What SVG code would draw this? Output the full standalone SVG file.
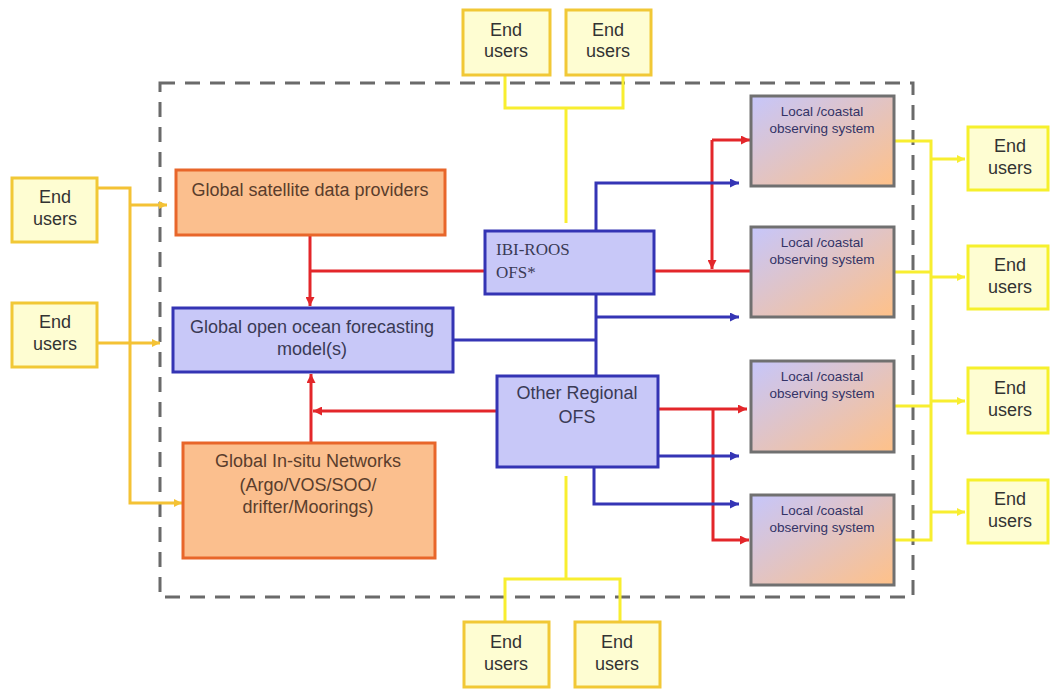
<svg xmlns="http://www.w3.org/2000/svg" width="1050" height="691" viewBox="0 0 1050 691">
<defs>
<linearGradient id="lg" x1="0" y1="0" x2="1" y2="1">
<stop offset="0" stop-color="#c6c6fb"/>
<stop offset="1" stop-color="#ffc188"/>
</linearGradient>
<marker id="ar" viewBox="0 0 10 10" refX="10" refY="5" markerWidth="11" markerHeight="9" markerUnits="userSpaceOnUse" orient="auto"><path d="M0,0 L10,5 L0,10 z" fill="#e3262a"/></marker>
<marker id="ab" viewBox="0 0 10 10" refX="10" refY="5" markerWidth="11" markerHeight="9" markerUnits="userSpaceOnUse" orient="auto"><path d="M0,0 L10,5 L0,10 z" fill="#3535b5"/></marker>
<marker id="ao" viewBox="0 0 10 10" refX="10" refY="5" markerWidth="10" markerHeight="8" markerUnits="userSpaceOnUse" orient="auto"><path d="M0,0 L10,5 L0,10 z" fill="#f4c235"/></marker>
<marker id="ay" viewBox="0 0 10 10" refX="10" refY="5" markerWidth="10" markerHeight="8" markerUnits="userSpaceOnUse" orient="auto"><path d="M0,0 L10,5 L0,10 z" fill="#f8ee30"/></marker>
</defs>
<style>
text{font-family:"Liberation Sans",Arial,sans-serif;text-anchor:middle}
.eu rect{fill:#fefdd2;stroke:#f1c836;stroke-width:3}
.eur rect{fill:#fefdd2;stroke:#f6f02c;stroke-width:3}
.eu text,.eur text{font-size:18px;fill:#333}
.or rect{fill:#fbbf8e;stroke:#e8662a;stroke-width:3}
.or text{font-size:18px;fill:#5a3d2c}
.bl rect{fill:#c8c8f8;stroke:#3434b4;stroke-width:3}
.bl text{font-size:18px;fill:#3a3a55}
.lc rect{fill:url(#lg);stroke:#707070;stroke-width:3}
.lc text{font-size:13.5px;fill:#333366}
.r{stroke:#e3262a;stroke-width:3;fill:none}
.b{stroke:#3535b5;stroke-width:3;fill:none}
.o{stroke:#f4c235;stroke-width:3;fill:none}
.y{stroke:#f8ee30;stroke-width:3;fill:none}
</style>
<rect x="0" y="0" width="1050" height="691" fill="#ffffff"/>
<rect x="160" y="83" width="753" height="514" fill="none" stroke="#6a6a6a" stroke-width="3" stroke-dasharray="15,10"/>

<g id="connectors">
<path class="r" d="M310,235 V306" marker-end="url(#ar)"/>
<path class="r" d="M311,271 H485"/>
<path class="r" d="M654,271 H751"/>
<path class="r" d="M712,140 V269" marker-end="url(#ar)"/>
<path class="r" d="M712,140 H750" marker-end="url(#ar)"/>
<path class="r" d="M497,411 H313" marker-end="url(#ar)"/>
<path class="r" d="M311,443 V374" marker-end="url(#ar)"/>
<path class="r" d="M658,409 H747" marker-end="url(#ar)"/>
<path class="r" d="M713,409 V540 H749" marker-end="url(#ar)"/>

<path class="b" d="M596,231 V183 H739" marker-end="url(#ab)"/>
<path class="b" d="M596,294 V376"/>
<path class="b" d="M596,317 H739" marker-end="url(#ab)"/>
<path class="b" d="M596,340 H453"/>
<path class="b" d="M658,456 H739" marker-end="url(#ab)"/>
<path class="b" d="M594,467 V504 H739" marker-end="url(#ab)"/>

<path class="o" d="M97,188 H130 V503 H182" marker-end="url(#ao)"/>
<path class="o" d="M130,205 H167" marker-end="url(#ao)"/>
<path class="o" d="M97,343 H160" marker-end="url(#ao)"/>

<path class="y" d="M505,75 V108 H623 V75"/>
<path class="y" d="M566,108 V223"/>
<path class="y" d="M566,476 V579"/>
<path class="y" d="M505,622 V579 H620 V622"/>
<path class="y" d="M894,141 H931 V540 H894"/>
<path class="y" d="M894,272 H931"/>
<path class="y" d="M894,406 H931"/>
<path class="y" d="M931,159 H965" marker-end="url(#ay)"/>
<path class="y" d="M931,277 H965" marker-end="url(#ay)"/>
<path class="y" d="M931,401 H965" marker-end="url(#ay)"/>
<path class="y" d="M931,512 H965" marker-end="url(#ay)"/>
</g>

<g id="eu-left1" class="eu"><rect x="12" y="178" width="85" height="64"/><text x="55" y="203">End</text><text x="55" y="225">users</text></g>
<g id="eu-left2" class="eu"><rect x="12" y="303" width="85" height="64"/><text x="55" y="328">End</text><text x="55" y="350">users</text></g>
<g id="eu-top1" class="eu"><rect x="463" y="10" width="87" height="65"/><text x="506" y="36">End</text><text x="506" y="57">users</text></g>
<g id="eu-top2" class="eu"><rect x="566" y="10" width="85" height="65"/><text x="608" y="36">End</text><text x="608" y="57">users</text></g>
<g id="eu-bot1" class="eu"><rect x="464" y="622" width="85" height="65"/><text x="506" y="648">End</text><text x="506" y="670">users</text></g>
<g id="eu-bot2" class="eu"><rect x="575" y="622" width="85" height="65"/><text x="617" y="648">End</text><text x="617" y="670">users</text></g>
<g id="eu-right1" class="eur"><rect x="968" y="127" width="80" height="63"/><text x="1010" y="152">End</text><text x="1010" y="174">users</text></g>
<g id="eu-right2" class="eur"><rect x="968" y="246" width="80" height="63"/><text x="1010" y="271">End</text><text x="1010" y="293">users</text></g>
<g id="eu-right3" class="eur"><rect x="968" y="368" width="80" height="65"/><text x="1010" y="394">End</text><text x="1010" y="416">users</text></g>
<g id="eu-right4" class="eur"><rect x="968" y="480" width="80" height="63"/><text x="1010" y="505">End</text><text x="1010" y="527">users</text></g>

<g id="satellite" class="or"><rect x="176" y="170" width="269" height="65"/><text x="310" y="196">Global satellite data providers</text></g>
<g id="global-model" class="bl"><rect x="173" y="308" width="280" height="64"/><text x="312" y="333">Global open ocean forecasting</text><text x="312" y="355">model(s)</text></g>
<g id="insitu" class="or"><rect x="183" y="443" width="252" height="115"/><text x="308" y="467">Global In-situ Networks</text><text x="308" y="491">(Argo/VOS/SOO/</text><text x="308" y="513">drifter/Moorings)</text></g>
<g id="ibi-roos" class="bl"><rect x="485" y="231" width="169" height="63"/><text x="496" y="255" style="text-anchor:start;font-family:'Liberation Serif','Times New Roman',serif;font-size:17px">IBI-ROOS</text><text x="496" y="278" style="text-anchor:start;font-family:'Liberation Serif','Times New Roman',serif;font-size:17px">OFS*</text></g>
<g id="other-regional" class="bl"><rect x="497" y="376" width="161" height="91"/><text x="577" y="399">Other Regional</text><text x="577" y="423">OFS</text></g>

<g id="local1" class="lc"><rect x="751" y="96" width="143" height="90"/><text x="822" y="116">Local /coastal</text><text x="822" y="133">observing system</text></g>
<g id="local2" class="lc"><rect x="751" y="227" width="143" height="90"/><text x="822" y="247">Local /coastal</text><text x="822" y="264">observing system</text></g>
<g id="local3" class="lc"><rect x="751" y="361" width="143" height="91"/><text x="822" y="381">Local /coastal</text><text x="822" y="398">observing system</text></g>
<g id="local4" class="lc"><rect x="751" y="495" width="143" height="90"/><text x="822" y="515">Local /coastal</text><text x="822" y="532">observing system</text></g>
</svg>
